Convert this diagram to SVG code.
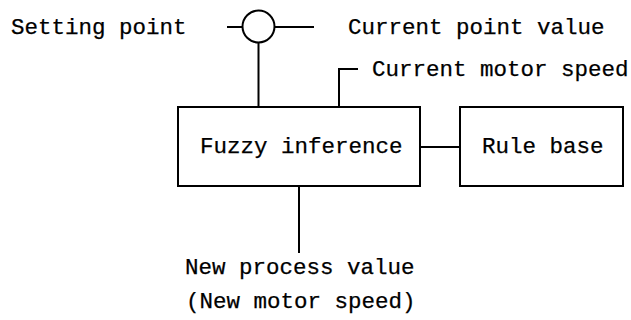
<svg xmlns="http://www.w3.org/2000/svg" width="631" height="320" viewBox="0 0 631 320">
<style>
.t{font-family:"Liberation Mono","Courier New",monospace;font-size:22.5px;fill:#000;stroke:#000;stroke-width:0.25}
.b{fill:#fff;stroke:#000;stroke-width:2}
.c{fill:none;stroke:#000;stroke-width:2}
</style>
<rect width="631" height="320" fill="#fff"/>
<g id="connectors">
<line class="c" x1="227" y1="27" x2="242.5" y2="27"/>
<line class="c" x1="274.5" y1="27" x2="314" y2="27"/>
<line class="c" x1="258.5" y1="42.5" x2="258.5" y2="107"/>
<polyline class="c" points="339,107 339,69 358,69"/>
<line class="c" x1="420" y1="147" x2="460" y2="147"/>
<line class="c" x1="299" y1="186" x2="299" y2="253"/>
</g>
<g id="setting-point"><text class="t" x="11" y="34">Setting point</text></g>
<g id="sum"><circle class="c" cx="258.5" cy="26.5" r="16"/></g>
<g id="current-point-value"><text class="t" x="348" y="34">Current point value</text></g>
<g id="current-motor-speed"><text class="t" x="372" y="76">Current motor speed</text></g>
<g id="fuzzy-inference">
<rect class="b" x="178" y="107" width="242" height="79"/>
<text class="t" x="200" y="153">Fuzzy inference</text>
</g>
<g id="rule-base">
<rect class="b" x="460" y="107" width="163" height="79"/>
<text class="t" x="482" y="153">Rule base</text>
</g>
<g id="output">
<text class="t" x="185" y="274">New process value</text>
<text class="t" x="186" y="308">(New motor speed)</text>
</g>
</svg>
